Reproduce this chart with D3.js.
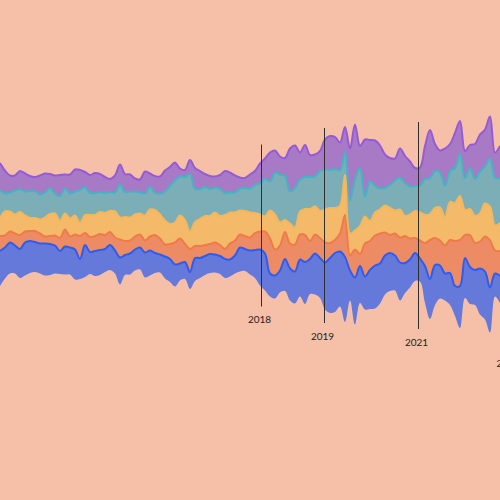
<!DOCTYPE html>
<html><head><meta charset="utf-8">
<script src="https://cdn.jsdelivr.net/npm/d3@7"></script>
<style>html,body{margin:0;padding:0;background:#f6c0a8;} svg{display:block}</style>
</head><body>
<svg id="chart" width="500" height="500"></svg>
<script>
// weekly index (x) for each observation
const weeks = d3.range(0, 101);

const purple = [27,23,17,15,18,18,15,14,19,19,14,18,21,14,19,22,20,15,
  18,20,18,16,13,17,20,18,17,13,13,22,13,17,17,21,19,
  18,8,7,14,21,18,13,13,11,14,22,20,17,11,10,14,14,
  20,20,29,22,18,18,43,42,27,32,22,22,20,30,34,32,28,
  25,52,55,22,57,41,45,43,33,27,22,29,27,25,18,18,33,
  48,27,22,37,27,35,33,27,23,35,37,37,42,25,32];
const teal = [28,18,19,24,23,24,27,27,25,25,26,20,25,25,25,24,33,28,
  22,22,20,20,19,19,33,25,26,23,21,22,23,17,21,29,38,
  42,39,43,58,33,30,29,27,25,27,22,20,20,22,23,24,28,
  31,38,29,42,48,44,32,40,32,32,32,30,40,40,38,39,35,
  23,33,51,58,20,40,27,21,18,23,30,32,33,28,25,27,36,
  36,37,35,32,31,35,42,32,41,37,42,37,48,48,45];
const yellow = [18,24,20,19,23,16,13,13,14,19,22,22,17,16,18,19,13,18,
  22,21,22,22,21,26,22,24,23,22,21,25,27,25,24,24,20,
  20,23,24,17,24,27,29,28,30,29,34,31,28,24,25,25,20,
  17,15,28,35,23,12,20,17,23,26,32,28,27,33,35,32,28,
  40,22,19,28,27,20,23,24,27,27,23,28,20,24,27,28,28,
  26,30,33,28,38,38,44,25,26,27,28,33,34,25,28];
const orange = [15,12,11,12,14,11,10,11,10,7,8,10,13,17,11,15,23,12,
  15,15,16,14,13,13,18,14,13,13,13,12,14,18,16,12,15,
  22,25,18,23,12,12,11,10,12,11,10,16,15,13,13,13,17,
  18,22,35,26,25,27,25,27,25,27,18,19,20,20,15,13,18,
  42,15,28,12,33,29,30,30,23,18,22,25,27,21,15,18,23,
  39,27,25,28,33,45,46,23,32,27,27,35,47,23,25];
const blue = [35,31,31,28,29,33,32,30,30,32,31,28,23,28,27,30,20,32,
  22,25,25,23,25,23,27,20,21,21,22,25,25,20,18,22,23,
  22,17,17,17,23,20,19,19,18,18,19,17,18,24,22,24,28,
  36,37,23,23,22,32,32,32,37,42,35,41,40,47,55,59,55,
  65,30,47,37,33,39,43,40,39,38,35,38,30,28,28,23,37,
  40,40,33,27,32,30,42,40,37,35,46,48,45,23,27];

const seriesKeys = ["blue","orange","yellow","teal","purple"];
const fills   = {blue:"#6479da", orange:"#ed8c64", yellow:"#f4ba6a", teal:"#7baeb6", purple:"#a87ac6"};
const strokes = {blue:"#2d5cf0", orange:"#f07a48", yellow:"#f6b75a", teal:"#45b3c6", purple:"#955ad8"};

const annotationLabels = ["2018","2019","2021","2022"];
const annotationWeeks  = [52.3, 64.9, 83.7, 102];

const table = weeks.map((w,i)=>({week:w, blue:blue[i], orange:orange[i], yellow:yellow[i], teal:teal[i], purple:purple[i]}));

const stack = d3.stack().keys(seriesKeys).order(d3.stackOrderNone).offset(d3.stackOffsetSilhouette);
const layers = stack(table);

const svg = d3.select("#chart");
const x = d3.scaleLinear().domain([0, 100]).range([0, 500]);
const y = d3.scaleLinear().domain([-125, 125]).range([349.5, 99.5]);

const curve = d3.curveCatmullRom.alpha(0.5);
const area = d3.area().x(d=>x(d.data.week)).y0(d=>y(d[0])).y1(d=>y(d[1])).curve(curve);
const line = d3.line().x(d=>x(d.data.week)).y(d=>y(d[1])).curve(curve);

svg.append("g").selectAll("path").data(layers).join("path")
  .attr("d", area).attr("fill", d=>fills[d.key]);
svg.append("g").selectAll("path").data(layers).join("path")
  .attr("d", line).attr("fill","none").attr("stroke", d=>strokes[d.key])
  .attr("stroke-width", 2).attr("stroke-linejoin","round");

const topLayer = layers[layers.length-1], bottomLayer = layers[0];
const lastWeek = weeks[weeks.length-1];
const allIdx = weeks.map((v,i)=>i);
const ann = svg.append("g");
annotationLabels.forEach((lab, k) => {
  const w = annotationWeeks[k];
  const outside = w > lastWeek;
  const idx = outside ? allIdx.slice(-4) : allIdx.filter(i => Math.abs(weeks[i]-w) <= 2.4);
  const t = y(d3.max(idx, i => topLayer[i][1])) - 8;
  const b = y(d3.min(idx, i => bottomLayer[i][0])) + (outside ? 18 : 10);
  ann.append("line").attr("x1", x(w)).attr("x2", x(w)).attr("y1", t).attr("y2", b)
    .attr("stroke", "#2e2e2e").attr("stroke-width", 1);
  ann.append("text").attr("x", x(w) - 2).attr("y", b + 14)
    .attr("text-anchor","middle").attr("dominant-baseline","middle")
    .attr("font-family","Lato, sans-serif").attr("font-size", 10)
    .attr("fill","#222").text(lab);
});
</script>
</body></html>
